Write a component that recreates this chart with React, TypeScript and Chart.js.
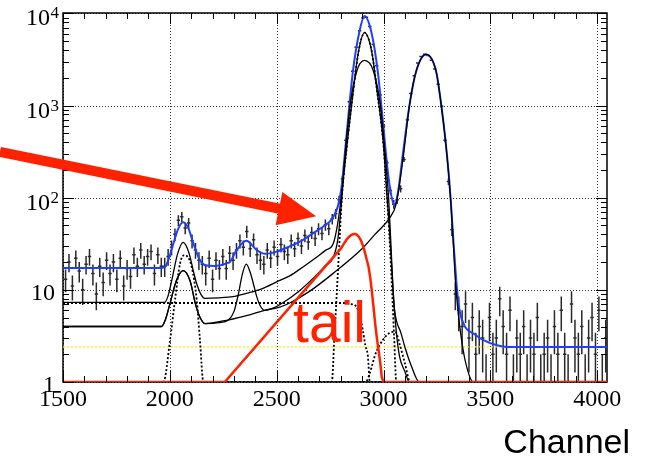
import { useEffect, useRef } from "react";
import { Chart, registerables } from "chart.js";

Chart.register(...registerables);

// ---------- axes ----------
const X_MIN = 1500;
const X_MAX = 4046;
const Y_MIN = 1;
const Y_MAX = 10100;
const xTicks = [1500, 2000, 2500, 3000, 3500, 4000];
const xTickLabels = ["1500", "2000", "2500", "3000", "3500", "4000"];
const yTicks = [1, 10, 100, 1000, 10000];
const yTickBase = ["1", "10", "10", "10", "10"];
const yTickExp = ["", "", "2", "3", "4"];
const xTitle = "Channel";
const tailLabel = "tail";

// ---------- measured histogram (16-channel bins) ----------
const binStart = 1504;
const binWidth = 16;
const counts = [
  13, 20, 11, 22, 16, 10, 19, 23, 15, 9, 18, 12, 21, 15, 20, 13, 22, 11, 17, 14, 24, 18, 27, 19, 23, 26, 15, 24, 18,
  18, 23, 29, 40, 57, 62, 47, 53, 34, 27, 21,
  19, 15, 22, 13, 21, 17, 23, 17, 25, 21,
  27, 34, 29, 43, 28, 35, 24, 21,
  19, 27, 22, 29, 23, 31, 26, 24, 34, 28, 36, 30, 39, 33, 42, 36, 46, 41, 51, 46, 59, 67,
  95, 160, 420, 1100, 2350, 4300, 6500, 8900, 9100, 7200, 4600, 2700, 1300, 600, 240, 120, 85, 95, 125, 260,
  700, 1350, 2100, 2900, 3400, 3600, 3500, 3100, 2500, 1700, 980, 420, 150, 45,
  9, 6, 4, 7, 3, 5, 2, 4, 3, 1, 5, 2, 3, 8, 4, 2, 6, 1, 3, 2, 4, 1, 3, 2, 5, 1, 2, 3, 1, 4, 2, 6, 2, 1, 7, 3, 2, 4, 1, 3, 5, 2, 6, 1, 3,
];

// ---------- fit curves ----------
const totalCh = [1500, 1960, 1978, 1993, 2017, 2040, 2062, 2087, 2110, 2141, 2171, 2210, 2266, 2282, 2313, 2358, 2407, 2444, 2500, 2561, 2620, 2670, 2720, 2748, 2770, 2786, 2802, 2826, 2857, 2888, 2911, 2942, 2973, 2997, 3020, 3035, 3051, 3068, 3090, 3122, 3153, 3199, 3246, 3270, 3290, 3305, 3315, 3326, 3340, 3350, 3359, 3382, 3421, 3468, 3531, 3578, 3650, 4046];
const totalVal = [17.3, 17.3, 17.8, 21, 32, 46.5, 54, 46.5, 32, 21, 18.4, 18.2, 19.4, 20.2, 27, 34, 27, 24.6, 26, 29.6, 34.5, 41, 49, 55, 65, 80, 122, 446, 2360, 6430, 9350, 6430, 2360, 675, 193, 110, 82, 115, 290, 1025, 2360, 3585, 2360, 1025, 420, 182, 92, 37, 13, 7.5, 5.5, 3.96, 3.36, 2.84, 2.5, 2.4, 2.4, 2.4];

const upperCh = [1500, 1975, 1991, 2010, 2035, 2062, 2090, 2110, 2125, 2145, 2164, 2230, 2296, 2370, 2436, 2500, 2561, 2620, 2680, 2730, 2763, 2786, 2805, 2829, 2860, 2883, 2911, 2945, 2968, 3000, 3015, 3028, 3040, 3050, 3062, 3080, 3100, 3130, 3168, 4046];
const upperVal = [7.3, 7.3, 8.5, 13, 24, 32.7, 25, 16, 11.8, 9, 8.1, 8.2, 8.45, 9.3, 10.4, 12.2, 14.2, 17.5, 22, 27, 31, 53, 115, 373, 1550, 3840, 6170, 3840, 1550, 373, 115, 45, 15, 6.5, 4.5, 3.5, 2.4, 1.5, 1.0, 1.0];

const bumpCh = [1500, 1961, 1980, 2000, 2030, 2062, 2095, 2120, 2140, 2164, 2230, 2274, 2300, 2320, 2340, 2358, 2376, 2396, 2407, 2425, 2444, 2480, 2514, 2600, 2680, 2730, 2763, 2786, 2805, 2820, 2844, 2875, 2911, 2953, 2985, 3008, 3024, 3035, 3045, 3060, 3075, 3100, 3121, 4046];
const bumpVal = [4.0, 4.0, 4.8, 7, 12.5, 16.2, 12.5, 7, 5.1, 4.3, 4.4, 4.7, 5.8, 8.8, 15, 19, 15.5, 10.5, 8.4, 6.6, 6.0, 6.3, 6.9, 9.5, 14, 18.5, 22, 35, 98, 291, 1020, 2360, 3085, 2360, 1020, 291, 98, 30, 10, 3.5, 1.9, 1.3, 1.0, 1.0];

const lowerCh = [1500, 1961, 1980, 2000, 2030, 2062, 2095, 2120, 2140, 2164, 2250, 2350, 2444, 2514, 2561, 2650, 2763, 2903, 2960, 3028, 3059, 3090, 3122, 3153, 3199, 3246, 3270, 3290, 3305, 3315, 3326, 3336, 3347, 3359, 3382, 3421, 4046];
const lowerVal = [4.0, 4.0, 4.8, 7, 12.5, 16.2, 12.5, 7, 5.1, 4.3, 4.6, 5.2, 6.0, 6.5, 7.2, 9.5, 15, 28.4, 40, 60, 85, 250, 1025, 2360, 3585, 2360, 1025, 420, 180, 90, 35, 13, 6.5, 3.65, 1.72, 1.0, 1.0];

const gausLowCh = [1500, 1970, 2001, 2024, 2048, 2068, 2102, 2126, 2141, 2157, 4046];
const gausLowVal = [1, 1, 2.84, 7.7, 19.4, 23.8, 17.8, 7.7, 2.84, 1, 1];

const stepCh = [1500, 2830, 2850, 2872, 2890, 2903, 2915, 2927, 2936, 4046];
const stepVal = [7.2, 7.2, 7.0, 6.6, 5.2, 3.67, 2.5, 1.9, 1.0, 1.0];

const gausMainCh = [1500, 2758, 2770, 2780, 2790, 2805, 2829, 2860, 2883, 2911, 2945, 2968, 3000, 3015, 3030, 3040, 3050, 3060, 4046];
const gausMainVal = [1, 1, 3, 8, 22, 100, 370, 1550, 3840, 6170, 3840, 1550, 373, 115, 30, 10, 3, 1, 1];

const shoulderCh = [1500, 2914, 2969, 3028, 3055, 3075, 3100, 3125, 4046];
const shoulderVal = [1, 1, 2.2, 3.4, 3.5, 2.6, 1.6, 1.0, 1.0];

const tailCh = [1500, 2257, 2800, 2812, 2825, 2838, 2850, 2860, 2868, 2876, 2885, 2894, 2903, 2912, 2921, 2930, 2938, 2945, 2953, 2961, 2969, 2977, 2985, 2992, 3000, 4046];
const tailVal = [1, 1, 28, 31, 34.5, 37.5, 39.5, 40.3, 40.3, 39.5, 37.5, 34.5, 30.5, 26, 21.5, 17.8, 13.5, 9.9, 6.6, 4.3, 3.0, 2.2, 1.6, 1.13, 1.0, 1.0];

const constCh = [1500, 4046];
const constVal = [2.4, 2.4];

// annotation anchors (data coordinates)
const arrowFrom = [1205, 314];
const arrowTo = [2685, 63];
const tailTextAt = [2577, 2.7];

const RED = "#ff2200";
const BLUE = "#1f3fff";

function mk(chs: number[], vals: number[], color: string, width: number, dash: number[] = [], smooth = true) {
  return {
    data: chs.map((c, i) => ({ x: c, y: vals[i] })),
    borderColor: color,
    borderWidth: width,
    borderDash: dash,
    pointRadius: 0,
    fill: false,
    cubicInterpolationMode: smooth ? ("monotone" as const) : ("default" as const),
    tension: 0,
  };
}

const rootStyle = {
  id: "rootStyle",
  beforeDatasetsDraw(chart: any) {
    const { ctx, chartArea: a, scales } = chart;
    const x = scales.x;
    const y = scales.y;
    ctx.save();
    // grid
    ctx.strokeStyle = "#333";
    ctx.lineWidth = 1;
    ctx.setLineDash([1, 2]);
    for (const t of xTicks) {
      const px = Math.round(x.getPixelForValue(t)) + 0.5;
      ctx.beginPath();
      ctx.moveTo(px, a.top);
      ctx.lineTo(px, a.bottom);
      ctx.stroke();
    }
    for (const t of yTicks) {
      const py = Math.round(y.getPixelForValue(t)) + 0.5;
      ctx.beginPath();
      ctx.moveTo(a.left, py);
      ctx.lineTo(a.right, py);
      ctx.stroke();
    }
    ctx.setLineDash([]);
    // frame
    ctx.strokeStyle = "#000";
    ctx.lineWidth = 1.5;
    ctx.strokeRect(a.left, a.top, a.right - a.left, a.bottom - a.top);
    // histogram with errors
    ctx.beginPath();
    ctx.rect(a.left, a.top, a.right - a.left, a.bottom - a.top);
    ctx.clip();
    ctx.strokeStyle = "#2a2a2a";
    ctx.lineWidth = 1.5;
    counts.forEach((n, i) => {
      if (n <= 0) return;
      const c = binStart + binWidth * (i + 0.5);
      const px = x.getPixelForValue(c);
      const e = Math.sqrt(n);
      const top = y.getPixelForValue(n + e);
      const lo = n - e > 0.05 ? y.getPixelForValue(n - e) : a.bottom + 5;
      const py = y.getPixelForValue(n);
      ctx.beginPath();
      ctx.moveTo(px, top);
      ctx.lineTo(px, lo);
      ctx.moveTo(x.getPixelForValue(c - binWidth / 2), py);
      ctx.lineTo(x.getPixelForValue(c + binWidth / 2), py);
      ctx.stroke();
    });
    ctx.restore();
  },
  afterDatasetsDraw(chart: any) {
    const { ctx, chartArea: a, scales } = chart;
    const x = scales.x;
    const y = scales.y;
    ctx.save();
    // ticks
    ctx.strokeStyle = "#000";
    ctx.lineWidth = 1;
    for (let v = 1500; v <= X_MAX; v += 100) {
      const px = Math.round(x.getPixelForValue(v)) + 0.5;
      const len = v % 500 === 0 ? 11 : 6;
      ctx.beginPath();
      ctx.moveTo(px, a.bottom);
      ctx.lineTo(px, a.bottom - len);
      ctx.moveTo(px, a.top);
      ctx.lineTo(px, a.top + len);
      ctx.stroke();
    }
    for (let k = 0; k <= 4; k++) {
      for (let m = 1; m <= 9; m++) {
        const v = m * Math.pow(10, k);
        if (v > Y_MAX) break;
        const py = Math.round(y.getPixelForValue(v)) + 0.5;
        const len = m === 1 ? 11 : 6;
        ctx.beginPath();
        ctx.moveTo(a.left, py);
        ctx.lineTo(a.left + len, py);
        ctx.moveTo(a.right, py);
        ctx.lineTo(a.right - len, py);
        ctx.stroke();
      }
    }
    // x labels
    ctx.fillStyle = "#000";
    ctx.font = '24px "Liberation Serif"';
    ctx.textAlign = "center";
    ctx.textBaseline = "alphabetic";
    xTicks.forEach((t, i) => {
      ctx.fillText(xTickLabels[i], x.getPixelForValue(t), a.bottom + 24);
    });
    // y labels
    yTicks.forEach((t, i) => {
      const py = y.getPixelForValue(t);
      if (!yTickExp[i]) {
        ctx.font = '24px "Liberation Serif"';
        ctx.textAlign = "right";
        ctx.fillText(yTickBase[i], a.left - 8, py + 10);
      } else {
        ctx.font = '24px "Liberation Serif"';
        ctx.textAlign = "right";
        ctx.fillText(yTickBase[i], a.left - 13, py + 12);
        ctx.font = '17px "Liberation Serif"';
        ctx.textAlign = "left";
        ctx.fillText(yTickExp[i], a.left - 12.5, py + 5);
      }
    });
    // axis title
    ctx.font = '34px "Liberation Sans"';
    ctx.textAlign = "right";
    ctx.fillText(xTitle, 630, 453);
    // arrow
    const x0 = x.getPixelForValue(arrowFrom[0]);
    const y0 = y.getPixelForValue(arrowFrom[1]);
    const x1 = x.getPixelForValue(arrowTo[0]);
    const y1 = y.getPixelForValue(arrowTo[1]);
    const dx = x1 - x0;
    const dy = y1 - y0;
    const L = Math.hypot(dx, dy);
    const ux = dx / L;
    const uy = dy / L;
    const headLen = 38;
    const headHalf = 17;
    const bx = x1 - ux * headLen;
    const by = y1 - uy * headLen;
    ctx.strokeStyle = RED;
    ctx.fillStyle = RED;
    ctx.lineWidth = 10;
    ctx.lineCap = "butt";
    ctx.beginPath();
    ctx.moveTo(x0, y0);
    ctx.lineTo(bx + ux * 2, by + uy * 2);
    ctx.stroke();
    ctx.beginPath();
    ctx.moveTo(x1, y1);
    ctx.lineTo(bx - uy * headHalf, by + ux * headHalf);
    ctx.lineTo(bx + uy * headHalf, by - ux * headHalf);
    ctx.closePath();
    ctx.fill();
    // tail label
    ctx.font = '57px "Liberation Sans"';
    ctx.textAlign = "left";
    ctx.fillText(tailLabel, x.getPixelForValue(tailTextAt[0]), y.getPixelForValue(tailTextAt[1]));
    ctx.restore();
  },
};

export default function App() {
  const ref = useRef<HTMLCanvasElement | null>(null);
  useEffect(() => {
    if (!ref.current) return;
    const chart = new Chart(ref.current, {
      type: "line",
      data: {
        datasets: [
          mk(tailCh, tailVal, RED, 2.5, [], false),
          mk(gausMainCh, gausMainVal, "#000", 1.8, [2, 2]),
          mk(stepCh, stepVal, "#000", 1.8, [2, 2]),
          mk(gausLowCh, gausLowVal, "#000", 1.8, [2, 2]),
          mk(shoulderCh, shoulderVal, "#000", 1.8, [2, 2]),
          mk(upperCh, upperVal, "#000", 1.3),
          mk(bumpCh, bumpVal, "#000", 1.3),
          mk(lowerCh, lowerVal, "#000", 1.3),
          mk(totalCh, totalVal, BLUE, 2),
          mk(constCh, constVal, "#f5f500", 1.3, [2, 2]),
        ] as any,
      },
      options: {
        animation: false,
        responsive: true,
        maintainAspectRatio: false,
        events: [],
        layout: { padding: { left: 63, top: 13, right: 39, bottom: 74 } },
        plugins: { legend: { display: false }, tooltip: { enabled: false } },
        scales: {
          x: { type: "linear", min: X_MIN, max: X_MAX, display: false },
          y: { type: "logarithmic", min: Y_MIN, max: Y_MAX, display: false },
        },
      },
      plugins: [rootStyle],
    });
    return () => chart.destroy();
  }, []);
  return (
    <div style={{ position: "fixed", left: 0, top: 0, width: 646, height: 456, background: "#fff" }}>
      <canvas ref={ref} />
    </div>
  );
}
